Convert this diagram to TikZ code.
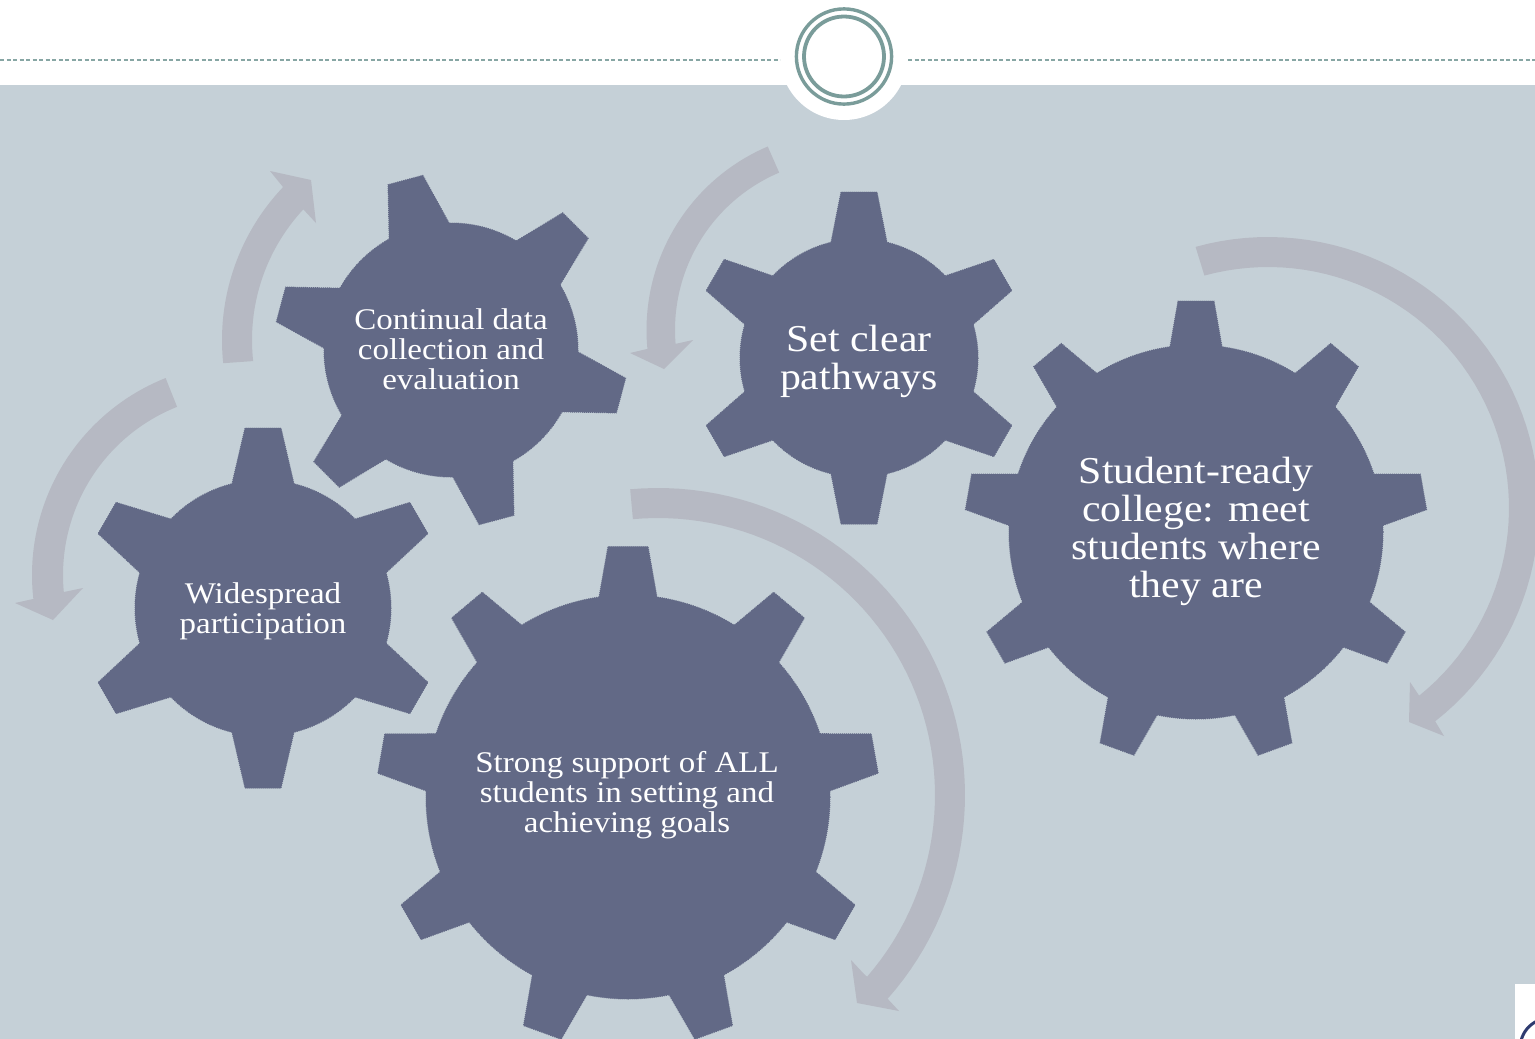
\documentclass[tikz,border=0pt]{standalone}
\usepackage{fontspec}
\setmainfont[FakeStretch=1.1]{Liberation Serif}
\definecolor{panelbg}{HTML}{C5D0D7}
\definecolor{gearfill}{HTML}{626986}
\definecolor{arrowfill}{HTML}{B6B9C3}
\definecolor{ringcol}{HTML}{7A9C9A}
\definecolor{logoblue}{HTML}{2E3B70}
\tikzset{
  gearpart/.style={fill=gearfill,draw=gearfill,line width=1pt,densely dotted},
  blockarrow/.style={fill=arrowfill,draw=none},
  geartext/.style={text=white,align=center,inner sep=0pt,font=\fontsize{30}{30}\selectfont},
  geartextbig/.style={text=white,align=center,inner sep=0pt,font=\fontsize{38}{38}\selectfont},
  ring/.style={draw=ringcol,fill=none},
  rule/.style={draw=ringcol!90!white,line width=1.4pt,dash pattern=on 4pt off 2.5pt}
}
% cx cy r R n rot tiphalf basehalf
\newcommand\gearwheel[8]{%
  \fill[gearpart] (#1,#2) circle[radius=#3];
  \pgfmathsetmacro\dstep{360/#5}
  \foreach \k in {1,...,#5}{
    \pgfmathsetmacro\ang{#6+(\k-1)*\dstep}
    \pgfmathsetmacro\ux{sin(\ang)}
    \pgfmathsetmacro\uy{-cos(\ang)}
    \pgfmathsetmacro\vx{cos(\ang)}
    \pgfmathsetmacro\vy{sin(\ang)}
    \pgfmathsetmacro\dz{#3*sqrt(1-(#8/#3)*(#8/#3))}
    \fill[gearpart]
      ({#1+\dz*\ux-#8*\vx},{#2+\dz*\uy-#8*\vy}) --
      ({#1+#4*\ux-#7*\vx},{#2+#4*\uy-#7*\vy}) --
      ({#1+#4*\ux+#7*\vx},{#2+#4*\uy+#7*\vy}) --
      ({#1+\dz*\ux+#8*\vx},{#2+\dz*\uy+#8*\vy}) -- cycle;
  }%
}
% cx cy ro ri outerstart outerend innerstart innerend headpoints
\newcommand\curvearrow[9]{%
  \fill[blockarrow]
    plot[domain=#5:#6,samples=60,variable=\t] ({#1+#3*cos(\t)},{#2+#3*sin(\t)})
    -- #9 --
    plot[domain=#8:#7,samples=60,variable=\t] ({#1+#4*cos(\t)},{#2+#4*sin(\t)})
    -- cycle;%
}
\begin{document}
\begin{tikzpicture}[x=1pt,y=-1pt]
\useasboundingbox (0,0) rectangle (1535,1039);
\clip (0,0) rectangle (1535,1039);
% page
\fill[white] (0,0) rectangle (1535,1039);
\fill[panelbg] (0,84.5) rectangle (1535,1039);
\fill[white] (844,56) circle[radius=64];
\coordinate (ruleLa) at (0,60);
\coordinate (ruleLb) at (780,60);
\coordinate (ruleRa) at (908,60);
\coordinate (ruleRb) at (1535,60);
\draw[rule] (ruleLa) -- (ruleLb);
\draw[rule] (ruleRa) -- (ruleRb);
\draw[ring,line width=3.4pt] (844,56.5) circle[radius=47.6];
\draw[ring,line width=3.8pt] (844,56.5) circle[radius=40];
% logo corner
\fill[white] (1515,984) rectangle (1535,1039);
\draw[logoblue,line width=3pt] (1521,1041) .. controls (1523,1032) and (1529,1025) .. (1537,1021);
% curved block arrows
\curvearrow{658}{795}{307}{277}{264.8}{401.5}{264.8}{401}{(886,997) -- (899,1011) -- (857,1003) -- (851,960) -- (864,974)}
\curvearrow{1268}{508}{271}{241}{254.5}{411.9}{254.7}{411.2}{(1435,721) -- (1444,736) -- (1409,722) -- (1410,682) -- (1420,697)}
\curvearrow{244}{575}{212}{181}{248.3}{173.5}{248.3}{174.6}{(33,599) -- (15,603) -- (53,620) -- (83,588) -- (64,592)}
\curvearrow{846}{330}{199.5}{171}{246.9}{174.5}{247}{175.3}{(647,349) -- (630,353) -- (664,369) -- (693,340) -- (675,344)}
\curvearrow{444}{340}{222}{192}{174}{223.5}{173.7}{222.9}{(283,187) -- (270,171) -- (311,180) -- (316,223) -- (303,209)}
% gears
\gearwheel{451}{350}{127}{176}{6}{-15}{18}{31}
\gearwheel{859}{358}{119}{166}{6}{0}{18}{28}
\gearwheel{263}{608}{128}{180}{6}{0}{18}{31}
\gearwheel{1196}{532}{187}{231}{9}{0}{18}{26}
\gearwheel{628}{797}{202}{250.5}{9}{0}{20}{29}
% labels
\node[geartext] (continual) at (451,349) {Continual data\\collection and\\evaluation};
\node[geartextbig] (pathways) at (859,361) {Set clear\\pathways};
\node[geartext] (widespread) at (263,611) {Widespread\\participation};
\node[geartextbig] (studentready) at (1196,531) {Student-ready\\college: meet\\students where\\they are};
\node[geartext] (support) at (627,795) {Strong support of ALL\\students in setting and\\achieving goals};
\end{tikzpicture}
\end{document}
